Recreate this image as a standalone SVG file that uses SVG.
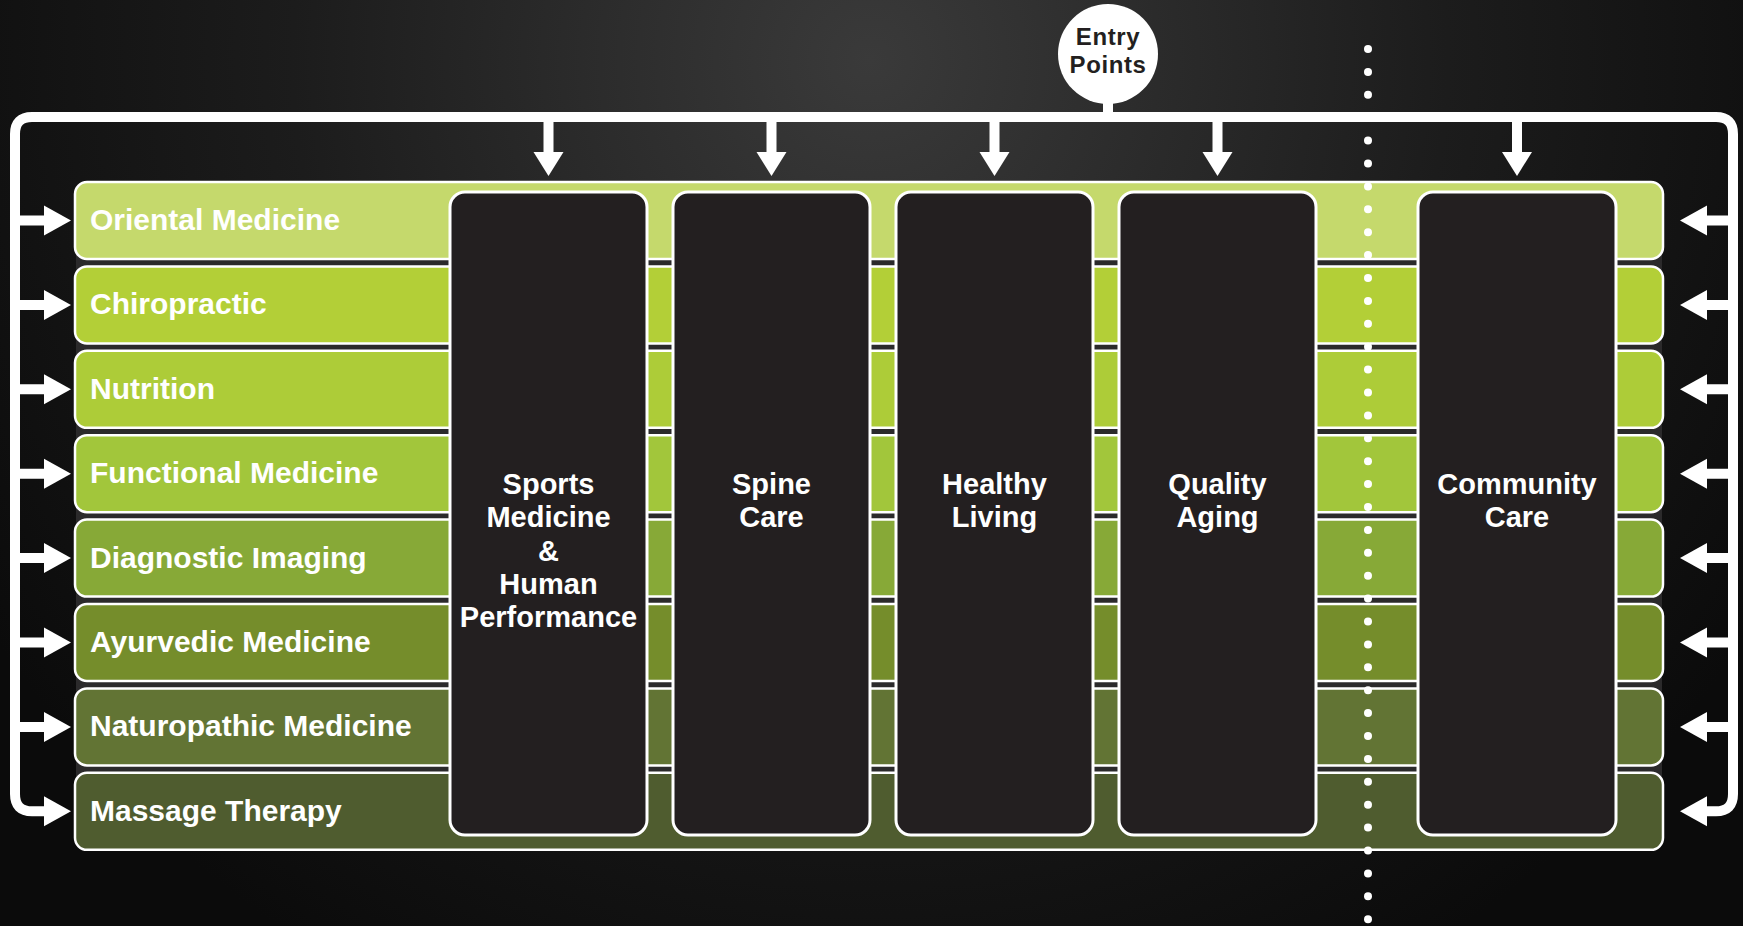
<svg xmlns="http://www.w3.org/2000/svg" width="1743" height="926" viewBox="0 0 1743 926">
<defs>
<radialGradient id="bg" cx="870" cy="60" r="1050" gradientUnits="userSpaceOnUse">
<stop offset="0" stop-color="#3a3a3a"/>
<stop offset="0.55" stop-color="#1c1c1c"/>
<stop offset="1" stop-color="#0b0b0b"/>
</radialGradient>
<style>
.band{stroke:#fff;stroke-width:2.5}
.col{fill:#231f20;stroke:#fff;stroke-width:3}
.bl{font-family:"Liberation Sans",Arial,sans-serif;font-weight:bold;font-size:30px;fill:#fff}
.cl{font-family:"Liberation Sans",Arial,sans-serif;font-weight:bold;font-size:29px;fill:#fff;text-anchor:middle}
.ep{font-family:"Liberation Sans",Arial,sans-serif;font-weight:bold;font-size:24px;letter-spacing:0.6px;fill:#231f20;text-anchor:middle}
.ln{fill:none;stroke:#fff;stroke-width:10}
.ah{fill:#fff}
.dot{fill:#fff}
</style>
</defs>
<rect width="1743" height="926" fill="url(#bg)"/>
<rect x="76" y="230" width="1586" height="570" fill="#2b2a2b"/>

<g id="band-oriental"><rect class="band" x="75" y="182" width="1588" height="77" rx="12" fill="#c5d96c"/><text class="bl" x="90" y="230">Oriental Medicine</text></g>
<g id="band-chiropractic"><rect class="band" x="75" y="266.4" width="1588" height="77" rx="12" fill="#b3cf37"/><text class="bl" x="90" y="314.4">Chiropractic</text></g>
<g id="band-nutrition"><rect class="band" x="75" y="350.8" width="1588" height="77" rx="12" fill="#adcc38"/><text class="bl" x="90" y="398.8">Nutrition</text></g>
<g id="band-functional"><rect class="band" x="75" y="435.2" width="1588" height="77" rx="12" fill="#a2c63b"/><text class="bl" x="90" y="483.2">Functional Medicine</text></g>
<g id="band-diagnostic"><rect class="band" x="75" y="519.6" width="1588" height="77" rx="12" fill="#87a937"/><text class="bl" x="90" y="567.6">Diagnostic Imaging</text></g>
<g id="band-ayurvedic"><rect class="band" x="75" y="604" width="1588" height="77" rx="12" fill="#758d2b"/><text class="bl" x="90" y="652">Ayurvedic Medicine</text></g>
<g id="band-naturopathic"><rect class="band" x="75" y="688.4" width="1588" height="77" rx="12" fill="#627434"/><text class="bl" x="90" y="736.4">Naturopathic Medicine</text></g>
<g id="band-massage"><rect class="band" x="75" y="772.8" width="1588" height="77" rx="12" fill="#4f5c2f"/><text class="bl" x="90" y="820.8">Massage Therapy</text></g>

<g id="divider">
<circle class="dot" cx="1368" cy="49" r="4"/><circle class="dot" cx="1368" cy="71.9" r="4"/><circle class="dot" cx="1368" cy="94.8" r="4"/><circle class="dot" cx="1368" cy="117.7" r="4"/><circle class="dot" cx="1368" cy="140.6" r="4"/><circle class="dot" cx="1368" cy="163.5" r="4"/><circle class="dot" cx="1368" cy="186.4" r="4"/><circle class="dot" cx="1368" cy="209.3" r="4"/><circle class="dot" cx="1368" cy="232.2" r="4"/><circle class="dot" cx="1368" cy="255.1" r="4"/><circle class="dot" cx="1368" cy="278" r="4"/><circle class="dot" cx="1368" cy="300.9" r="4"/><circle class="dot" cx="1368" cy="323.8" r="4"/><circle class="dot" cx="1368" cy="346.7" r="4"/><circle class="dot" cx="1368" cy="369.6" r="4"/><circle class="dot" cx="1368" cy="392.5" r="4"/><circle class="dot" cx="1368" cy="415.4" r="4"/><circle class="dot" cx="1368" cy="438.3" r="4"/><circle class="dot" cx="1368" cy="461.2" r="4"/><circle class="dot" cx="1368" cy="484.1" r="4"/><circle class="dot" cx="1368" cy="507" r="4"/><circle class="dot" cx="1368" cy="529.9" r="4"/><circle class="dot" cx="1368" cy="552.8" r="4"/><circle class="dot" cx="1368" cy="575.7" r="4"/><circle class="dot" cx="1368" cy="598.6" r="4"/><circle class="dot" cx="1368" cy="621.5" r="4"/><circle class="dot" cx="1368" cy="644.4" r="4"/><circle class="dot" cx="1368" cy="667.3" r="4"/><circle class="dot" cx="1368" cy="690.2" r="4"/><circle class="dot" cx="1368" cy="713.1" r="4"/><circle class="dot" cx="1368" cy="736" r="4"/><circle class="dot" cx="1368" cy="758.9" r="4"/><circle class="dot" cx="1368" cy="781.8" r="4"/><circle class="dot" cx="1368" cy="804.7" r="4"/><circle class="dot" cx="1368" cy="827.6" r="4"/><circle class="dot" cx="1368" cy="850.5" r="4"/><circle class="dot" cx="1368" cy="873.4" r="4"/><circle class="dot" cx="1368" cy="896.3" r="4"/><circle class="dot" cx="1368" cy="919.2" r="4"/>
</g>

<g id="col-sports"><rect class="col" x="450" y="192" width="197" height="643" rx="15"/>
<text class="cl" x="548.5" y="494">Sports</text><text class="cl" x="548.5" y="527">Medicine</text><text class="cl" x="548.5" y="561">&amp;</text><text class="cl" x="548.5" y="594">Human</text><text class="cl" x="548.5" y="627">Performance</text></g>
<g id="col-spine"><rect class="col" x="673" y="192" width="197" height="643" rx="15"/>
<text class="cl" x="771.5" y="494">Spine</text><text class="cl" x="771.5" y="527">Care</text></g>
<g id="col-healthy"><rect class="col" x="896" y="192" width="197" height="643" rx="15"/>
<text class="cl" x="994.5" y="494">Healthy</text><text class="cl" x="994.5" y="527">Living</text></g>
<g id="col-quality"><rect class="col" x="1119" y="192" width="197" height="643" rx="15"/>
<text class="cl" x="1217.5" y="494">Quality</text><text class="cl" x="1217.5" y="527">Aging</text></g>
<g id="col-community"><rect class="col" x="1418" y="192" width="198" height="643" rx="15"/>
<text class="cl" x="1517" y="494">Community</text><text class="cl" x="1517" y="527">Care</text></g>

<g id="connectors">
<path class="ln" d="M46 811.3 H32 Q15 811.3 15 794 V134 Q15 117 32 117 H1716 Q1733 117 1733 134 V794 Q1733 811.3 1716 811.3 H1704"/>
<path class="ln" d="M1108 96 V117"/>
<path class="ln" d="M15 220.5 H46 M15 304.9 H46 M15 389.3 H46 M15 473.7 H46 M15 558.1 H46 M15 642.5 H46 M15 726.9 H46"/>
<path class="ln" d="M1733 220.5 H1704 M1733 304.9 H1704 M1733 389.3 H1704 M1733 473.7 H1704 M1733 558.1 H1704 M1733 642.5 H1704 M1733 726.9 H1704"/>
<path class="ln" d="M548.5 117 V154 M771.5 117 V154 M994.5 117 V154 M1217.5 117 V154 M1517 117 V154"/>
<polygon class="ah" points="44,205.5 71,220.5 44,235.5"/><polygon class="ah" points="44,289.9 71,304.9 44,319.9"/><polygon class="ah" points="44,374.3 71,389.3 44,404.3"/><polygon class="ah" points="44,458.7 71,473.7 44,488.7"/><polygon class="ah" points="44,543.1 71,558.1 44,573.1"/><polygon class="ah" points="44,627.5 71,642.5 44,657.5"/><polygon class="ah" points="44,711.9 71,726.9 44,741.9"/><polygon class="ah" points="44,796.3 71,811.3 44,826.3"/>
<polygon class="ah" points="1707,205.5 1680,220.5 1707,235.5"/><polygon class="ah" points="1707,289.9 1680,304.9 1707,319.9"/><polygon class="ah" points="1707,374.3 1680,389.3 1707,404.3"/><polygon class="ah" points="1707,458.7 1680,473.7 1707,488.7"/><polygon class="ah" points="1707,543.1 1680,558.1 1707,573.1"/><polygon class="ah" points="1707,627.5 1680,642.5 1707,657.5"/><polygon class="ah" points="1707,711.9 1680,726.9 1707,741.9"/><polygon class="ah" points="1707,796.3 1680,811.3 1707,826.3"/>
<polygon class="ah" points="533.5,152 548.5,176 563.5,152"/><polygon class="ah" points="756.5,152 771.5,176 786.5,152"/><polygon class="ah" points="979.5,152 994.5,176 1009.5,152"/><polygon class="ah" points="1202.5,152 1217.5,176 1232.5,152"/><polygon class="ah" points="1502,152 1517,176 1532,152"/>
</g>

<g id="entry-points">
<circle cx="1108" cy="54" r="50" fill="#fff"/>
<text class="ep" x="1108" y="45">Entry</text><text class="ep" x="1108" y="73">Points</text>
</g>
</svg>
